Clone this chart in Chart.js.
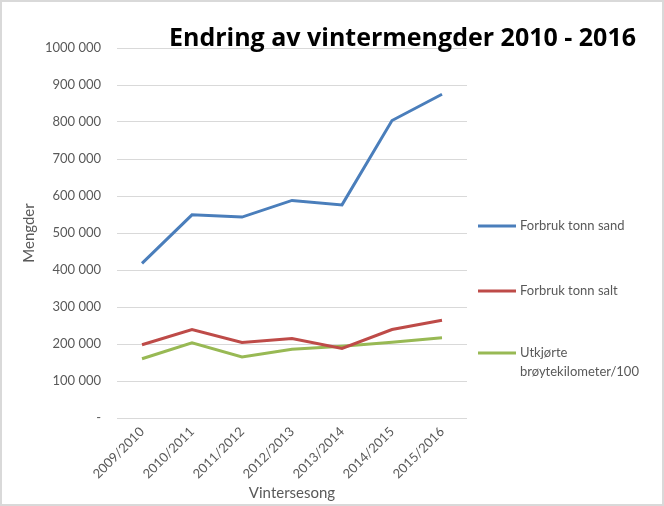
<!DOCTYPE html>
<html>
<head>
<meta charset="utf-8">
<script src="https://cdn.jsdelivr.net/npm/chart.js@4/dist/chart.umd.min.js"></script>
<style>
  body { margin: 0; background: #fff; }
  #wrap { width: 664px; height: 506px; box-sizing: border-box; border: 2px solid #d9d9d9; }
  canvas { display: block; }
</style>
</head>
<body>
<div id="wrap"><canvas id="myChart" width="660" height="502"></canvas></div>
<script>
const seasons = ["2009/2010", "2010/2011", "2011/2012", "2012/2013", "2013/2014", "2014/2015", "2015/2016"];
const sand = [418000, 549000, 543000, 588000, 576000, 804000, 875000];
const salt = [198000, 239000, 204000, 215000, 188000, 239000, 264000];
const km = [160000, 203000, 165000, 186000, 194000, 205000, 217000];
const seriesNames = ["Forbruk tonn sand", "Forbruk tonn salt", ["Utkjørte", "brøytekilometer/100"]];
const yTicks = [0, 100000, 200000, 300000, 400000, 500000, 600000, 700000, 800000, 900000, 1000000];

const FONT = "Lato, 'Open Sans', sans-serif";
const GREY = "#595959";

function fmt(v) {
  if (v === 0) return "-";
  return String(v).replace(/\B(?=(\d{3})+(?!\d))/g, " ").replace(/^1 000 000$/, "1000 000");
}

// title and right-hand legend
const extras = {
  id: "extras",
  afterDraw(chart) {
    const ctx = chart.ctx;
    ctx.save();
    ctx.fillStyle = "#000";
    ctx.font = "bold 25px 'Open Sans', sans-serif";
    ctx.textAlign = "right";
    ctx.textBaseline = "alphabetic";
    ctx.fillText("Endring av vintermengder 2010 - 2016", 634, 44);

    const ys = [224, 289, 351];
    ctx.font = "13px " + FONT;
    ctx.textAlign = "left";
    ctx.textBaseline = "middle";
    chart.data.datasets.forEach((ds, i) => {
      ctx.strokeStyle = ds.borderColor;
      ctx.lineWidth = 3;
      ctx.beginPath();
      ctx.moveTo(476, ys[i]);
      ctx.lineTo(514, ys[i]);
      ctx.stroke();
      ctx.fillStyle = GREY;
      const lines = Array.isArray(ds.label) ? ds.label : [ds.label];
      lines.forEach((t, j) => ctx.fillText(t, 518, ys[i] + j * 19));
    });
    ctx.restore();
  }
};

const colors = ["#4a7ebb", "#be4b48", "#98b954"];
const ctx = document.getElementById("myChart");
new Chart(ctx, {
  type: "line",
  data: {
    labels: seasons,
    datasets: [sand, salt, km].map((d, i) => ({
      label: seriesNames[i],
      data: d,
      borderColor: colors[i],
      backgroundColor: colors[i],
      borderWidth: 3,
      pointRadius: 0,
      tension: 0,
      fill: false
    }))
  },
  options: {
    responsive: false,
    animation: false,
    layout: { padding: { top: 46, right: 195, left: 0, bottom: 0 } },
    plugins: { legend: { display: false }, tooltip: { enabled: false } },
    scales: {
      x: {
        offset: true,
        grid: { display: false, drawTicks: false },
        border: { display: false },
        ticks: { minRotation: 45, maxRotation: 45, color: GREY, font: { family: FONT, size: 13 }, padding: 6 },
        title: { display: true, text: "Vintersesong", color: GREY, font: { family: FONT, size: 15 }, padding: { top: 0, bottom: 2 } },
        afterFit(scale) { scale.height = 86; }
      },
      y: {
        min: 0,
        max: 1000000,
        afterBuildTicks(scale) { scale.ticks = yTicks.map(v => ({ value: v })); },
        grid: { color: "#d9d9d9", drawTicks: false, lineWidth: 1 },
        border: { display: false },
        ticks: { color: GREY, font: { family: FONT, size: 13 }, padding: 16, callback: v => fmt(v) },
        title: { display: true, text: "Mengder", color: GREY, font: { family: FONT, size: 15 }, padding: { top: 18, bottom: 8 } },
        afterFit(scale) { scale.width = 115; }
      }
    }
  },
  plugins: [extras]
});
</script>
</body>
</html>
